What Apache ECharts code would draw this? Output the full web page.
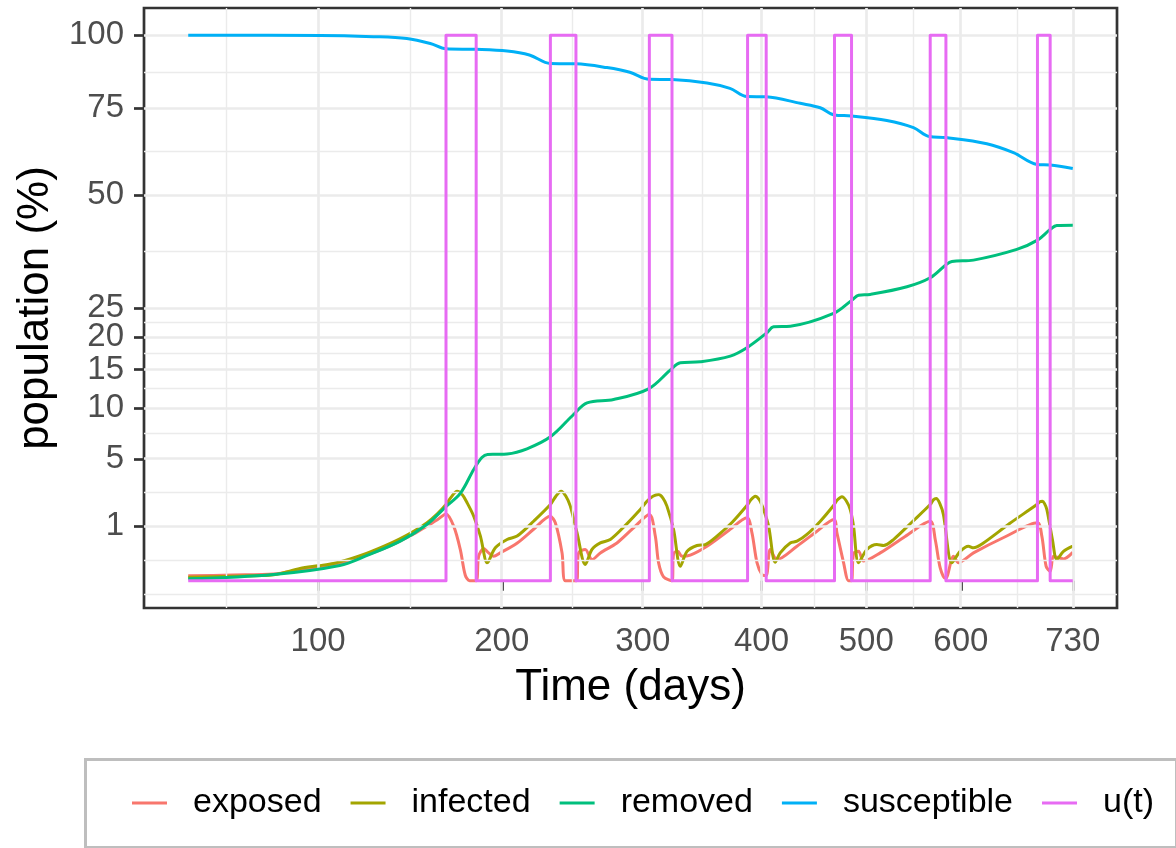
<!DOCTYPE html>
<html>
<head>
<meta charset="utf-8">
<script src="https://cdn.jsdelivr.net/npm/echarts@6/dist/echarts.min.js"></script>
<style>
  html, body { margin: 0; padding: 0; background: #ffffff; }
  #chart { width: 1176px; height: 848px; }
</style>
</head>
<body>
<div id="chart"></div>
<script>
// Compartment model output, population shares in percent, versus time in days.
const seriesNames = ['exposed', 'infected', 'removed', 'susceptible', 'u(t)'];
const seriesColors = ['#F8766D', '#A3A500', '#00BF7D', '#00B0F6', '#E76BF3'];

// Axis breaks (both axes use a square-root scale)
const xBreaks = [100, 200, 300, 400, 500, 600, 730];
const yBreaks = [1, 5, 10, 15, 20, 25, 50, 75, 100];

const exposedDays = [50, 65, 81, 92, 100, 107, 115, 123, 132, 140, 148, 155, 161, 166, 170.5, 174.4, 177.4, 180, 184, 185.5, 188.6, 191.7, 194.8, 199, 210,
  221, 232, 235.6, 240.3, 242.6, 250.4, 252, 256.8, 261.7, 267.8, 280.2, 292,
  305.2, 309.9, 312.5, 316.5, 323.3, 324.6, 328, 331.4, 338.3, 352.3, 370,
  387, 391.4, 395.9, 400.4, 404.2, 407.9, 414, 432.6, 450,
  468, 470.9, 477.4, 482.3, 485.3, 487.3, 492.3, 497.3, 514.2, 540,
  566.6, 572, 577.4, 582.8, 583.6, 591.9, 597.4, 614, 650,
  687.5, 692.8, 697.9, 702.7, 706.6, 712, 718.7, 730];
const exposedValues = [0.008, 0.011, 0.015, 0.04, 0.065, 0.09, 0.14, 0.22, 0.35, 0.52, 0.74, 1.0, 1.25, 1.5, 1.0, 0.33, 0.01, 0, 0, 0.2, 0.35, 0.26, 0.2, 0.26, 0.48,
  0.9, 1.4, 1.13, 0.26, 0, 0, 0.26, 0.33, 0.15, 0.26, 0.48, 0.9,
  1.47, 0.67, 0.11, 0.005, 0, 0.25, 0.29, 0.2, 0.22, 0.4, 0.82,
  1.33, 0.77, 0.11, 0.013, 0.009, 0.33, 0.15, 0.4, 0.78,
  1.26, 0.77, 0.11, 0, 0, 0.25, 0.29, 0.13, 0.26, 0.66,
  1.19, 0.57, 0.056, 0.002, 0.002, 0.2, 0.11, 0.26, 0.65,
  1.13, 0.67, 0.07, 0.03, 0.2, 0.18, 0.16, 0.27];

const infectedDays = [50, 65, 81, 92, 100, 107, 115, 123, 132, 140, 148, 155, 161, 166, 169, 172.5, 175.5, 178.5, 182.5, 186.6, 190.7, 191.7, 195.9, 203.4, 209.9,
  221, 232.2, 236, 239.6, 243, 246.1, 250.9, 256.8, 261.7, 267.8, 275.2, 287, 298.1, 303.3, 308,
  312.5, 316, 319.2, 324.6, 330.1, 335.6, 343.9, 350.9, 360.8, 374,
  386.9, 390.5, 394.3, 398, 401.8, 406.4, 412.4, 417, 426.3, 432.6, 442, 455,
  467.6, 471.5, 475.8, 480, 484, 487.3, 492.3, 500.7, 510.8, 517.6, 527.9, 547,
  566.6, 570, 573, 577, 580.9, 590.1, 599.2, 608.4, 614, 625.2, 655,
  686.9, 690.5, 693.5, 696, 698.8, 705.4, 710.7, 718.7, 730];
const infectedValues = [0.004, 0.007, 0.012, 0.05, 0.075, 0.1, 0.16, 0.25, 0.4, 0.58, 0.83, 1.12, 1.5, 1.95, 2.35, 2.69, 2.5, 2.04, 1.4, 0.67, 0.108, 0.128, 0.364, 0.57, 0.67,
  1.2, 1.95, 2.4, 2.69, 2.4, 1.87, 0.77, 0.088, 0.33, 0.48, 0.57, 1.05, 1.7, 2.125, 2.4,
  2.5, 2.3, 1.87, 0.88, 0.07, 0.29, 0.417, 0.44, 0.67, 1.15,
  1.9, 2.2, 2.4, 2.2, 1.7, 1.0, 0.115, 0.262, 0.48, 0.525, 0.72, 1.2,
  1.9, 2.2, 2.37, 2.15, 1.7, 1.0, 0.108, 0.327, 0.44, 0.417, 0.57, 1.15,
  1.95, 2.2, 2.27, 2.0, 1.47, 0.108, 0.29, 0.4, 0.364, 0.48, 1.1,
  1.95, 2.1, 2.125, 2.0, 1.7, 0.571, 0.151, 0.29, 0.4];

const removedDays = [50, 81, 110, 123, 140.5, 155, 166, 174.4, 182.5, 187.5, 191, 197, 203.4, 216.4, 232.2, 248.4, 258.1,
  277.7, 304.6, 321.9, 330.1, 346.6, 372.3, 386.9, 404.9, 410.9, 426.3, 467.6, 485.7, 492.3, 504,
  541.9, 566.6, 582.8, 590.1, 614, 663.4, 687.6, 702.7, 710.7, 730];
const removedValues = [0.0012, 0.013, 0.078, 0.21, 0.525, 1.06, 1.85, 2.56, 4.16, 5.1, 5.36, 5.37, 5.4, 5.85, 6.96, 9.29, 10.64,
  11.04, 12.38, 14.9, 15.97, 16.11, 16.95, 18.24, 20.67, 21.68, 21.78, 24.01, 26.46, 27.41, 27.55,
  29.05, 30.86, 33.41, 34.27, 34.55, 36.89, 38.99, 41.48, 42.43, 42.5];

const susceptibleDays = [50, 101, 126.5, 144, 157, 166, 184, 203.4, 218, 232.2, 250, 272.7, 290, 305.2,
  323.3, 352.3, 372, 386.9, 404.2, 435.7, 454.7, 468.2, 485.7, 521, 548.8, 565.8,
  583.6, 629, 659.5, 687, 702.7, 730];
const susceptibleValues = [100, 99.95, 99.5, 98.8, 97.0, 95.1, 94.9, 94.3, 92.9, 89.9, 89.8, 88.5, 86.9, 84.5,
  84.4, 83.3, 81.5, 78.8, 78.7, 76.6, 75.2, 72.9, 72.6, 71.2, 69.0, 66.3,
  66.0, 64.2, 61.6, 58.25, 58.06, 57.1];

// Control switched on (100) during intervention windows, off (0) otherwise
const controlDays = [50, 166, 166, 184, 184, 232.2, 232.2, 250.1, 250.1, 305.2, 305.2, 323.3, 323.3,
  387.5, 387.5, 404.2, 404.2, 468.5, 468.5, 485.3, 485.3, 566.6, 566.6, 583.6, 583.6, 687.6, 687.6, 702.7, 702.7, 730];
const controlValues = [0, 0, 100, 100, 0, 0, 100, 100, 0, 0, 100, 100, 0,
  0, 100, 100, 0, 0, 100, 100, 0, 0, 100, 100, 0, 0, 100, 100, 0, 0];

const allDays = [exposedDays, infectedDays, removedDays, susceptibleDays, controlDays];
const allValues = [exposedValues, infectedValues, removedValues, susceptibleValues, controlValues];
const smoothing = [0.3, 0.3, 0.35, 0.35, 0];

// square-root transform used by both axes
const tr = v => Math.sqrt(Math.max(v, 0));

function expandedLimits(lo, hi) {
  const pad = (hi - lo) * 0.05;
  return [lo - pad, hi + pad];
}

// minor breaks halfway between majors, extended one step beyond the first/last major
function minorBreaks(major, lim) {
  const b = major.slice();
  const bd = b[1] - b[0];
  if (lim[0] < b[0]) b.unshift(b[0] - bd);
  if (lim[1] > b[b.length - 1]) b.push(b[b.length - 1] + bd);
  const out = [];
  for (let i = 0; i < b.length - 1; i++) {
    out.push(b[i]);
    out.push((b[i] + b[i + 1]) / 2);
  }
  return out.filter(v => v > lim[0] && v < lim[1] && major.indexOf(v) < 0);
}

const flatDays = [].concat(...allDays);
const flatVals = [].concat(...allValues);
const xLim = expandedLimits(tr(Math.min(...flatDays)), tr(Math.max(...flatDays)));
const yLim = expandedLimits(tr(Math.min(...flatVals)), tr(Math.max(...flatVals)));

const xMajor = xBreaks.map(tr);
const yMajor = yBreaks.map(tr);
const xMinor = minorBreaks(xMajor, xLim);
const yMinor = minorBreaks(yMajor, yLim);

const gridColor = '#EBEBEB';
const gridLines = [].concat(
  xMinor.map(v => ({ xAxis: v, lineStyle: { color: gridColor, width: 1.4, type: 'solid' } })),
  yMinor.map(v => ({ yAxis: v, lineStyle: { color: gridColor, width: 1.4, type: 'solid' } })),
  xMajor.map(v => ({ xAxis: v, lineStyle: { color: gridColor, width: 2.7, type: 'solid' } })),
  yMajor.map(v => ({ yAxis: v, lineStyle: { color: gridColor, width: 2.7, type: 'solid' } }))
);

const lineSeries = seriesNames.map((name, i) => ({
  name: name,
  type: 'line',
  data: allDays[i].map((d, k) => [tr(d), tr(allValues[i][k])]),
  showSymbol: false,
  symbol: 'none',
  smooth: smoothing[i],
  z: 3 + i,
  lineStyle: { color: seriesColors[i], width: 3, cap: 'butt', join: 'round' },
  itemStyle: { color: seriesColors[i] },
  animation: false
}));

const gridSeries = {
  name: 'panel-grid',
  type: 'line',
  data: [],
  z: 1,
  silent: true,
  animation: false,
  markLine: {
    silent: true,
    symbol: ['none', 'none'],
    label: { show: false },
    animation: false,
    emphasis: { disabled: true },
    data: gridLines
  }
};

const tickText = { fontFamily: 'Liberation Sans, Arial, sans-serif', fontSize: 33, color: '#4D4D4D' };
const titleText = { fontFamily: 'Liberation Sans, Arial, sans-serif', fontSize: 44, color: '#000000' };

const chart = echarts.init(document.getElementById('chart'), null, { renderer: 'canvas' });
chart.setOption({
  animation: false,
  backgroundColor: '#ffffff',
  grid: {
    left: 144, right: 59, top: 8, bottom: 240,
    show: true, borderColor: '#333333', borderWidth: 2.7, backgroundColor: 'transparent'
  },
  xAxis: {
    type: 'value',
    min: xLim[0], max: xLim[1],
    name: 'Time (days)',
    nameLocation: 'middle',
    nameGap: 58,
    nameTextStyle: titleText,
    axisLine: { show: false },
    splitLine: { show: false },
    axisTick: { show: true, customValues: xMajor, length: 10, lineStyle: { color: '#333333', width: 2.7 } },
    axisLabel: {
      customValues: xMajor, margin: 17, ...tickText,
      formatter: v => String(Math.round(v * v))
    }
  },
  yAxis: {
    type: 'value',
    min: yLim[0], max: yLim[1],
    name: 'population (%)',
    nameLocation: 'middle',
    nameGap: 84,
    nameTextStyle: titleText,
    axisLine: { show: false },
    splitLine: { show: false },
    axisTick: { show: true, customValues: yMajor, length: 10, lineStyle: { color: '#333333', width: 2.7 } },
    axisLabel: {
      customValues: yMajor, margin: 20, ...tickText,
      formatter: v => String(Math.round(v * v))
    }
  },
  legend: {
    data: seriesNames,
    orient: 'horizontal',
    left: 132,
    top: 786,
    icon: 'rect',
    itemWidth: 35,
    itemHeight: 3,
    itemGap: 29,
    padding: 0,
    textStyle: { fontFamily: 'Liberation Sans, Arial, sans-serif', fontSize: 34, color: '#000000', padding: [0, 0, 0, 21] }
  },
  graphic: [{
    type: 'rect',
    left: 83, top: 757,
    shape: { width: 1091, height: 88 },
    style: { fill: 'none', stroke: '#BEBEBE', lineWidth: 3 },
    silent: true
  }],
  series: [gridSeries].concat(lineSeries)
});
</script>
</body>
</html>
